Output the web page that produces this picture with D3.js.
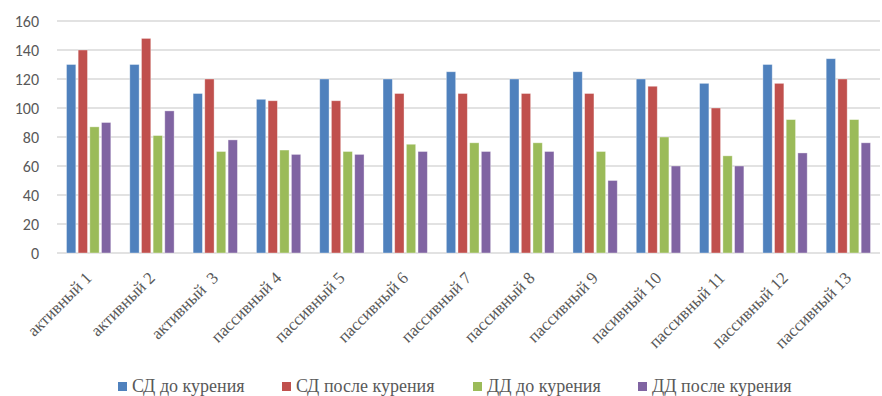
<!DOCTYPE html>
<html>
<head>
<meta charset="utf-8">
<script src="https://cdn.jsdelivr.net/npm/d3@7"></script>
<style>
  body { margin: 0; background: #fff; }
  .serif { font-family: 'Liberation Serif', 'DejaVu Serif', 'Times New Roman', Times, serif; }
</style>
</head>
<body>
<div id="chart"></div>
<script>
var categories = ['активный 1', 'активный 2', 'активный  3', 'пассивный 4', 'пассивный 5', 'пассивный 6',
                  'пассивный 7', 'пассивный 8', 'пассивный 9', 'пасивный 10', 'пассивный 11', 'пассивный 12', 'пассивный 13'];
var seriesNames = ['СД до курения', 'СД после курения', 'ДД до курения', 'ДД после курения'];
var sdBefore = [130, 130, 110, 106, 120, 120, 125, 120, 125, 120, 117, 130, 134];
var sdAfter = [140, 148, 120, 105, 105, 110, 110, 110, 110, 115, 100, 117, 120];
var ddBefore = [87, 81, 70, 71, 70, 75, 76, 76, 70, 80, 67, 92, 92];
var ddAfter = [90, 98, 78, 68, 68, 70, 70, 70, 50, 60, 60, 69, 76];
var yTicks = [0, 20, 40, 60, 80, 100, 120, 140, 160];
var colors = ['#4f81bd', '#c0504d', '#9bbb59', '#8064a2'];

var allSeries = [sdBefore, sdAfter, ddBefore, ddAfter];
var width = 882, height = 396;
var margin = {left: 57, right: 2, top: 21, bottom: 143};

var svg = d3.select('#chart')
            .append('svg')
            .attr('width', width)
            .attr('height', height);

var x0 = d3.scaleBand()
           .domain(categories)
           .range([margin.left, width - margin.right])
           .paddingInner(0.3)
           .paddingOuter(0.15);

var x1 = d3.scaleBand()
           .domain(d3.range(seriesNames.length))
           .range([0, x0.bandwidth()])
           .paddingInner(0.2);

var y = d3.scaleLinear()
          .domain([0, 160])
          .range([height - margin.bottom, margin.top]);

// grid lines
svg.append('g')
   .selectAll('line')
   .data(yTicks)
   .enter()
   .append('line')
   .attr('x1', margin.left)
   .attr('x2', width - margin.right)
   .attr('y1', function(d){return y(d);})
   .attr('y2', function(d){return y(d);})
   .style('stroke', '#d9d9d9')
   .style('stroke-width', 1.3);

// y axis labels
var yAxis = d3.axisLeft(y).tickValues(yTicks).tickSize(0).tickPadding(18);
svg.append('g')
   .attr('transform', 'translate(' + margin.left + ',0)')
   .call(yAxis)
   .call(function(g){ g.select('.domain').remove(); })
   .selectAll('text')
   .style('font-family', 'Calibri, Carlito, "Liberation Sans", Arial, sans-serif')
   .style('font-size', '16px')
   .style('fill', '#595959');

// bars
var groups = svg.append('g')
                .selectAll('g')
                .data(categories)
                .enter()
                .append('g')
                .attr('transform', function(d){return 'translate(' + x0(d) + ',0)';});

groups.selectAll('rect')
      .data(function(d, i){ return allSeries.map(function(s, j){ return {s: j, v: s[i]}; }); })
      .enter()
      .append('rect')
      .attr('x', function(d){return x1(d.s);})
      .attr('y', function(d){return y(d.v);})
      .attr('width', x1.bandwidth())
      .attr('height', function(d){return y(0) - y(d.v);})
      .style('fill', function(d){return colors[d.s];})
      .style('stroke', 'rgba(255,255,255,0.45)')
      .style('stroke-width', 0.8);

// x labels
var xAxis = d3.axisBottom(x0).tickSize(0).tickPadding(0);
var xg = svg.append('g')
   .attr('transform', 'translate(0,' + y(0) + ')')
   .call(xAxis)
   .call(function(g){ g.select('.domain').remove(); })
   .attr('font-family', null);
xg.selectAll('text')
   .attr('class', 'serif')
   .attr('text-anchor', 'end')
   .attr('dy', 0)
   .attr('transform', 'translate(4,26) rotate(-45)')
   .style('font-size', '17px')
   .style('white-space', 'pre')
   .style('fill', '#595959');

// legend
var legendX = [118, 282, 473, 638];
var legend = svg.append('g')
                .selectAll('g')
                .data(seriesNames)
                .enter()
                .append('g')
                .attr('transform', function(d, i){return 'translate(' + legendX[i] + ',382)';});

legend.append('rect')
      .attr('width', 9)
      .attr('height', 9)
      .style('fill', function(d, i){return colors[i];});

legend.append('text')
      .attr('class', 'serif')
      .attr('x', 14)
      .attr('y', 10)
      .text(function(d){return d;})
      .style('font-size', '18px')
      .style('fill', '#595959');
</script>
</body>
</html>
